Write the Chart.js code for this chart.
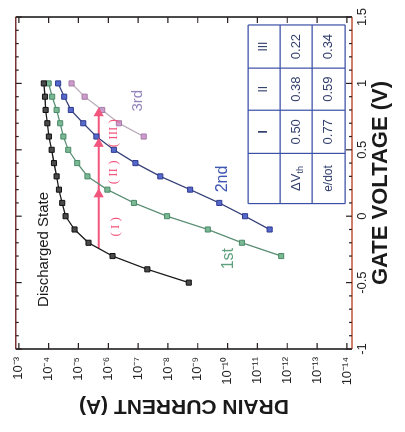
<!DOCTYPE html>
<html>
<head>
<meta charset="utf-8">
<script src="https://cdn.jsdelivr.net/npm/chart.js@4.4.1/dist/chart.umd.min.js"></script>
<style>
  html, body { margin: 0; padding: 0; background: #fff; }
  #stage { position: relative; width: 405px; height: 432px; overflow: hidden; }
  /* the figure is a scan turned a quarter turn, so draw it upright and turn it */
  #turn { position: absolute; left: 0; top: 0; width: 432px; height: 405px;
          transform-origin: 0 0; transform: translate(0, 432px) rotate(-90deg); }
</style>
</head>
<body>
<div id="stage"><div id="turn"><canvas id="chart" width="432" height="405"></canvas></div></div>
<script>
// gate voltage (V) and drain current (A)
const gateDischarged = [-0.5, -0.4, -0.3, -0.2, -0.1, 0, 0.1, 0.2, 0.3, 0.4, 0.5, 0.6, 0.7, 0.8, 0.9, 1.0];
const currentDischarged = [2.0e-9, 4.9e-8, 7.2e-7, 4.6e-6, 1.35e-5, 2.7e-5, 3.5e-5, 4.5e-5, 5.4e-5, 6.6e-5, 7.9e-5, 9.8e-5, 1.1e-4, 1.26e-4, 1.32e-4, 1.45e-4];

const gate1st = [-0.3, -0.2, -0.1, 0, 0.1, 0.2, 0.3, 0.4, 0.5, 0.6, 0.7, 0.8, 0.9, 1.0];
const current1st = [1.6e-12, 3.3e-11, 4.6e-10, 1.07e-8, 1.38e-7, 1.07e-6, 5.0e-6, 1.1e-5, 2.2e-5, 3.2e-5, 4.1e-5, 5.4e-5, 7.6e-5, 1.0e-4];

const gate2nd = [-0.1, 0, 0.1, 0.2, 0.3, 0.4, 0.5, 0.6, 0.7, 0.8, 0.9, 1.0];
const current2nd = [3.9e-12, 2.6e-11, 1.9e-10, 1.8e-9, 1.8e-8, 1.23e-7, 6.5e-7, 2.5e-6, 6.9e-6, 1.8e-5, 3.0e-5, 4.8e-5];

const gate3rd = [0.6, 0.7, 0.8, 0.9, 1.0];
const current3rd = [6.5e-8, 4.4e-7, 1.6e-6, 6.2e-6, 1.7e-5];

// red arrow: one current level, starts on the discharged curve, heads on each later curve
const arrowCurrent = 2.1e-6;
const arrowStartGate = -0.24;
const arrowTipGates = [0.21, 0.59, 0.82];

// inset table
const tableCols = ['', 'I', 'II', 'III'];
const deltaVth = ['0.50', '0.38', '0.22'];
const ePerDot = ['0.77', '0.59', '0.34'];

const gateTicks = [-1, -0.5, 0, 0.5, 1, 1.5];
const currentTicks = [1e-3, 1e-4, 1e-5, 1e-6, 1e-7, 1e-8, 1e-9, 1e-10, 1e-11, 1e-12, 1e-13, 1e-14];
const currentTickLabels = ['10⁻³', '10⁻⁴', '10⁻⁵', '10⁻⁶', '10⁻⁷', '10⁻⁸', '10⁻⁹', '10⁻¹⁰', '10⁻¹¹', '10⁻¹²', '10⁻¹³', '10⁻¹⁴'];

const SANS = '"Liberation Sans", Arial, sans-serif';
const SERIF = '"Liberation Serif", "Times New Roman", serif';
const RED = '#f2557d';

function series(gates, currents) {
    return gates.map((g, i) => ({ x: g, y: currents[i] }));
}

function curve(data, line, fill, edge) {
    return {
        data: data,
        borderColor: line,
        borderWidth: 1.3,
        pointStyle: 'rect',
        pointRadius: 3.6,
        pointBackgroundColor: fill,
        pointBorderColor: edge,
        pointBorderWidth: 1,
        tension: 0
    };
}

// text notes placed in data space
const notes = [
    { text: 'Discharged State', x: -0.25, y: 1.45e-4, color: '#1a1a1a', font: '15px ' + SANS },
    { text: '3rd', x: 0.87, y: 1.05e-7, color: '#9484bc', font: '15px ' + SANS },
    { text: '2nd', x: 0.28, y: 1.5e-10, color: '#3e56b0', font: '16px ' + SANS },
    { text: '1st', x: -0.32, y: 9.5e-11, color: '#5fa07e', font: '16px ' + SANS },
    { text: '( I )', x: -0.08, y: 5.8e-7, color: RED, font: '13px ' + SERIF },
    { text: '( II )', x: 0.33, y: 6.6e-7, color: RED, font: '13px ' + SERIF },
    { text: '( III )', x: 0.625, y: 6.6e-7, color: RED, font: '13px ' + SERIF }
];

const decor = {
    id: 'decor',
    afterDatasetsDraw(chart) {
        const { ctx, chartArea: a, scales: { x, y } } = chart;
        ctx.save();

        // frame: the scan shows the voltage-side edges reddish, the current-side edges black
        ctx.lineWidth = 1.6;
        ctx.strokeStyle = '#1e1e1e';
        ctx.beginPath();
        ctx.moveTo(a.left, a.top); ctx.lineTo(a.left, a.bottom);
        ctx.moveTo(a.right, a.top); ctx.lineTo(a.right, a.bottom);
        ctx.stroke();
        ctx.strokeStyle = '#7a3434';
        ctx.beginPath();
        ctx.moveTo(a.left, a.top); ctx.lineTo(a.right, a.top);
        ctx.stroke();
        ctx.strokeStyle = '#c0503a';
        ctx.beginPath();
        ctx.moveTo(a.left, a.bottom); ctx.lineTo(a.right, a.bottom);
        ctx.stroke();

        // inward ticks
        ctx.strokeStyle = '#2a2222';
        ctx.lineWidth = 1.2;
        ctx.beginPath();
        for (let k = -10; k <= 15; k++) {
            const px = x.getPixelForValue(k / 10);
            const len = k % 5 === 0 ? 6 : 3;
            ctx.moveTo(px, a.top); ctx.lineTo(px, a.top + len);
            ctx.moveTo(px, a.bottom); ctx.lineTo(px, a.bottom - len);
        }
        currentTicks.forEach(v => {
            const py = y.getPixelForValue(v);
            ctx.moveTo(a.left, py); ctx.lineTo(a.left + 6, py);
            ctx.moveTo(a.right, py); ctx.lineTo(a.right - 6, py);
        });
        ctx.stroke();

        // notes
        ctx.textAlign = 'center';
        ctx.textBaseline = 'middle';
        notes.forEach(n => {
            ctx.fillStyle = n.color;
            ctx.font = n.font;
            ctx.fillText(n.text, x.getPixelForValue(n.x), y.getPixelForValue(n.y));
        });

        // inset table
        const colX = [0.095, 0.473, 0.798, 1.115, 1.44].map(v => x.getPixelForValue(v));
        const rowY = [-10.69, -11.76, -12.83, -13.94].map(v => y.getPixelForValue(Math.pow(10, v)));
        ctx.fillStyle = '#ffffff';
        ctx.fillRect(colX[0], rowY[0], colX[4] - colX[0], rowY[3] - rowY[0]);
        ctx.strokeStyle = '#3b4fa6';
        ctx.lineWidth = 1.2;
        ctx.beginPath();
        colX.forEach(cx => { ctx.moveTo(cx, rowY[0]); ctx.lineTo(cx, rowY[3]); });
        rowY.forEach(ry => { ctx.moveTo(colX[0], ry); ctx.lineTo(colX[4], ry); });
        ctx.stroke();

        const mid = (arr, i) => (arr[i] + arr[i + 1]) / 2;
        ctx.fillStyle = '#34406e';
        tableCols.forEach((t, i) => {
            ctx.font = (i === 1 ? 'bold ' : '') + '12px ' + SANS;
            ctx.fillText(t, mid(colX, i), mid(rowY, 0));
        });
        ctx.font = '13px ' + SANS;
        deltaVth.forEach((t, i) => ctx.fillText(t, mid(colX, i + 1), mid(rowY, 1)));
        ePerDot.forEach((t, i) => ctx.fillText(t, mid(colX, i + 1), mid(rowY, 2)));

        // row labels: ΔVth with a subscript, e/dot
        const lx = mid(colX, 0), ly = mid(rowY, 1);
        ctx.font = '13px ' + SANS;
        const w1 = ctx.measureText('ΔV').width;
        ctx.font = '9px ' + SANS;
        const w2 = ctx.measureText('th').width;
        ctx.textAlign = 'left';
        ctx.font = '13px ' + SANS;
        ctx.fillText('ΔV', lx - (w1 + w2) / 2, ly);
        ctx.font = '9px ' + SANS;
        ctx.fillText('th', lx - (w1 + w2) / 2 + w1, ly + 4);
        ctx.textAlign = 'center';
        ctx.font = '12px ' + SANS;
        ctx.fillText('e/dot', lx, mid(rowY, 2));

        ctx.restore();
    }
};

Chart.defaults.font.family = SANS;
Chart.defaults.color = '#222';

new Chart(document.getElementById('chart'), {
    type: 'line',
    data: {
        datasets: [
            {
                data: arrowTipGates.map(g => ({ x: g - 0.045, y: arrowCurrent })),
                showLine: false,
                pointStyle: 'triangle',
                rotation: 90,
                pointRadius: 6,
                pointBackgroundColor: RED,
                pointBorderWidth: 0
            },
            curve(series(gateDischarged, currentDischarged), '#1c1c1c', '#4a4a4a', '#111111'),
            curve(series(gate1st, current1st), '#5b8f74', '#79b893', '#4c8a6a'),
            curve(series(gate2nd, current2nd), '#38427a', '#5668cc', '#2e3b8e'),
            curve(series(gate3rd, current3rd), '#bcaebc', '#cc9ccc', '#a67aa6'),
            {
                data: [{ x: arrowStartGate, y: arrowCurrent }, { x: arrowTipGates[2] - 0.06, y: arrowCurrent }],
                borderColor: RED,
                borderWidth: 2,
                pointRadius: 0
            }
        ]
    },
    options: {
        responsive: false,
        animation: false,
        devicePixelRatio: 1,
        events: [],
        layout: { padding: { top: 15, right: 17, bottom: 0, left: 0 } },
        plugins: { legend: { display: false }, tooltip: { enabled: false } },
        scales: {
            x: {
                type: 'linear',
                min: -1,
                max: 1.5,
                afterBuildTicks: s => { s.ticks = gateTicks.map(v => ({ value: v })); },
                afterFit: s => { s.height = 53; },
                grid: { display: false, drawTicks: false },
                border: { display: false },
                ticks: {
                    padding: 3,
                    maxRotation: 0,
                    color: '#222',
                    font: { size: 13 },
                    callback: v => String(v)
                },
                title: {
                    display: true,
                    text: 'GATE VOLTAGE (V)',
                    color: '#1a1a1a',
                    font: { size: 22, weight: 'bold' },
                    padding: { top: 0, bottom: 11 }
                }
            },
            y: {
                type: 'logarithmic',
                min: Math.pow(10, -14.17),
                max: Math.pow(10, -2.9),
                afterBuildTicks: s => { s.ticks = currentTicks.map(v => ({ value: v })); },
                afterFit: s => { s.width = 83; },
                grid: { display: false, drawTicks: false },
                border: { display: false },
                ticks: {
                    padding: 8,
                    autoSkip: false,
                    color: '#222',
                    font: { size: 13 },
                    callback: v => {
                        const k = currentTicks.indexOf(v);
                        return k >= 0 ? currentTickLabels[k] : '';
                    }
                },
                title: {
                    display: true,
                    text: 'DRAIN CURRENT (A)',
                    color: '#1a1a1a',
                    font: { size: 21, weight: 'bold' },
                    padding: { top: 14, bottom: 0 }
                }
            }
        }
    },
    plugins: [decor]
});
</script>
</body>
</html>
